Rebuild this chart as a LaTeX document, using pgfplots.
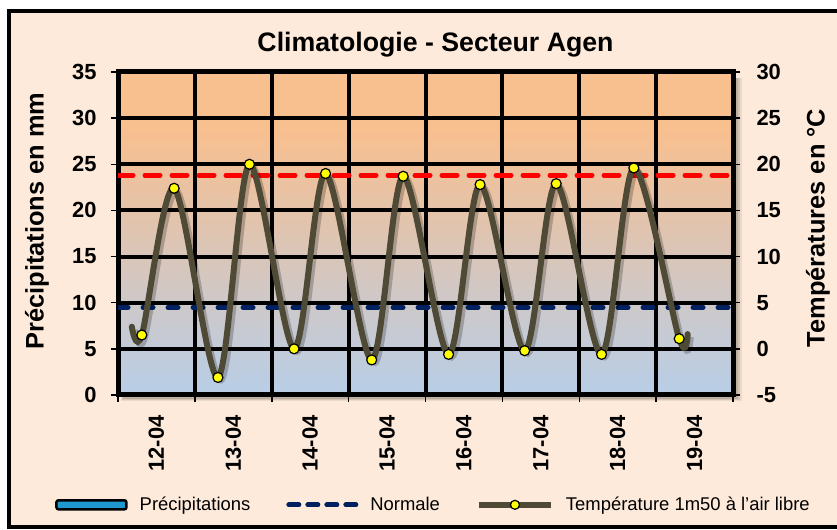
\documentclass[border=0pt]{standalone}
\usepackage{pgfplots}
\pgfplotsset{compat=1.18}
\usepackage{fontspec}
\setmainfont{Liberation Sans}
\definecolor{bgpeach}{HTML}{FDEADA}
\definecolor{topor}{HTML}{F8BF8F}
\definecolor{botbl}{HTML}{B9CDE5}
\definecolor{templine}{HTML}{4F4A35}
\definecolor{navy}{HTML}{002060}
\definecolor{precip}{HTML}{1F97CF}
\definecolor{markyel}{HTML}{FFFF00}
\pgfdeclareverticalshading{bgshade}{100bp}{color(0bp)=(botbl); color(26bp)=(botbl); color(66bp)=(topor); color(100bp)=(topor)}

\pgfplotstableread{
x T
-0.32 2.4
-0.19 1.5
0.23 17.4
0.80 -3.1
1.21 20.0
1.79 0.0
2.20 19.0
2.80 -1.2
3.21 18.7
3.80 -0.6
4.21 17.8
4.79 -0.2
5.20 17.9
5.79 -0.6
6.21 19.6
6.80 1.1
6.91 1.6
}\templine

\pgfplotstableread{
x T
-0.19 1.5
0.23 17.4
0.80 -3.1
1.21 20.0
1.79 0.0
2.20 19.0
2.80 -1.2
3.21 18.7
3.80 -0.6
4.21 17.8
4.79 -0.2
5.20 17.9
5.79 -0.6
6.21 19.6
6.80 1.1
}\tempmarks

\begin{document}
\begin{tikzpicture}[x=1bp,y=1bp]
\useasboundingbox (0,0) rectangle (837,530);
\clip (0,0) rectangle (837,530);
\fill[white] (0,0) rectangle (837,530);
\draw[line width=4bp, fill=bgpeach] (8.5,2.5) rectangle (850,518.5);
% soft shadow of plot area
\fill[black, opacity=0.07] (121,129) rectangle (742,452);
\fill[black, opacity=0.09] (122,130) rectangle (740,452);
\fill[black, opacity=0.11] (123,131) rectangle (738,452);

\node[font=\bfseries\fontsize{26.8}{30}\selectfont] at (435.5,485.5) {Climatologie - Secteur Agen};
\node[rotate=90, font=\bfseries\fontsize{25.5}{28}\selectfont] at (37,309) {Précipitations en mm};
\node[rotate=90, font=\bfseries\fontsize{25.5}{28}\selectfont] at (818,302) {Températures en °C};

\begin{axis}[
  at={(118bp,135bp)}, anchor=south west, scale only axis,
  width=615bp, height=323bp,
  xmin=-0.5, xmax=7.5, ymin=0, ymax=35,
  axis background/.style={shading=bgshade},
  axis line style={black, line width=5bp},
  xtick={-0.5,0.5,...,7.5}, xticklabels={,,,,,,,,,},
  extra x ticks={0,1,2,3,4,5,6,7},
  extra x tick labels={12-04,13-04,14-04,15-04,16-04,17-04,18-04,19-04},
  extra x tick style={major tick length=0pt, grid=none,
     tick label style={rotate=90, anchor=east, xshift=-17bp}},
  ytick={0,5,...,35},
  yticklabel style={xshift=-11bp},
  xtick pos=bottom, ytick pos=left,
  tick align=outside, major tick length=7bp,
  tick style={black, line width=1.5bp},
  grid=major, major grid style={black, line width=4bp},
  ticklabel style={font=\bfseries\fontsize{22}{24}\selectfont},
  /pgf/number format/assume math mode=true,
]
\addplot[draw=none, forget plot] coordinates {(0,0)};
\end{axis}

\begin{axis}[
  at={(118bp,135bp)}, anchor=south west, scale only axis,
  width=615bp, height=323bp,
  xmin=-0.5, xmax=7.5, ymin=-5, ymax=30,
  axis x line=none, axis y line*=right,
  axis line style={black, line width=5bp},
  ytick={-5,0,...,30},
  yticklabel style={xshift=13bp},
  tick align=outside, major tick length=7bp,
  tick style={black, line width=1.5bp},
  ticklabel style={font=\bfseries\fontsize{22}{24}\selectfont},
  /pgf/number format/assume math mode=true,
  legend columns=3,
  legend style={draw=none, fill=none, at={(0.513,-0.34)}, anchor=center,
     font=\fontsize{18.5}{20}\selectfont,
     /tikz/every odd column/.append style={column sep=10bp},
     /tikz/every even column/.append style={column sep=34bp}},
]
\addlegendimage{legend image code/.code={\draw[black, line width=2.5bp, fill=precip, rounded corners=2bp] (0bp,-4.5bp) rectangle (70bp,4.5bp);}}
\addlegendentry{Précipitations}
\addplot[navy, line width=5bp, dash pattern=on 10bp off 15bp, line cap=round,
  legend image code/.code={\draw[navy, line width=5bp, dash pattern=on 10bp off 9bp, line cap=round] (3bp,0bp) -- (70bp,0bp);}]
  coordinates {(-0.5,4.5) (7.5,4.5)};
\addlegendentry{Normale}
\addplot[red, line width=5bp, dash pattern=on 15bp off 12bp, line cap=round, forget plot]
  coordinates {(-0.5,18.8) (7.5,18.8)};
\addplot[black, opacity=0.22, line width=6bp, smooth, xshift=3bp, yshift=-3bp, forget plot]
  table[x=x, y=T] {\templine};
\addplot[templine, line width=6bp, smooth, line cap=round, forget plot]
  table[x=x, y=T] {\templine};
\addplot[only marks, mark=*, mark size=5bp, mark options={fill=markyel, draw=black, line width=1.2bp},
  legend image code/.code={\draw[templine, line width=6bp] (0bp,0bp) -- (72bp,0bp); \draw[black, fill=markyel, line width=1.2bp] (36bp,0bp) circle (4.5bp);}]
  table[x=x, y=T] {\tempmarks};
\addlegendentry{Température 1m50 à l'air libre}
\end{axis}
\end{tikzpicture}
\end{document}
